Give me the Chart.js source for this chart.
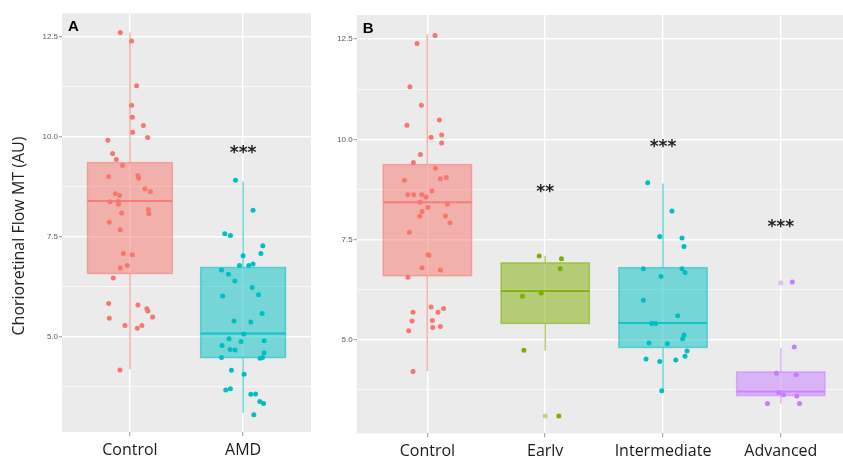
<!DOCTYPE html>
<html><head><meta charset="utf-8">
<script src="https://cdn.jsdelivr.net/npm/chart.js@4"></script>
<style>
html,body{margin:0;padding:0;background:#fff;overflow:hidden;width:843px;height:456px;}
#wrap{position:relative;width:843px;height:456px;overflow:hidden;}
canvas{position:absolute;top:0;}
#cA{left:0;}
#cB{left:330px;}
</style></head>
<body><div id="wrap"><canvas id="cA" width="330" height="490"></canvas><canvas id="cB" width="530" height="490"></canvas></div>
<script>
// ---------- shared axis data ----------
const yTickValues = [3.75, 5, 6.25, 7.5, 8.75, 10, 11.25, 12.5];
const yMajorTicks = [5, 7.5, 10, 12.5];
const yTitle = 'Chorioretinal Flow MT (AU)';

// ---------- Panel A ----------
const catsA = ['Control', 'AMD'];
const coloursA = ['#F8766D', '#00BFC4'];
const aControlY = [12.60,12.39,11.27,10.78,10.48,10.28,10.11,9.98,9.91,9.58,9.43,9.28,9.00,9.02,8.96,8.70,8.63,8.57,8.53,8.37,8.38,8.31,8.09,8.18,8.07,7.86,7.67,7.08,7.05,6.78,6.72,6.47,5.83,5.79,5.70,5.64,5.49,5.46,5.28,5.28,5.21,4.17];
const aControlJitter = [-0.085,0.015,0.059,0.015,0.021,0.119,0.024,0.157,-0.195,-0.153,-0.120,-0.065,-0.188,0.071,0.077,0.133,0.181,-0.129,-0.091,-0.177,-0.103,-0.100,-0.073,0.163,0.168,-0.182,-0.085,-0.058,0.021,-0.023,-0.085,-0.147,-0.188,0.071,0.150,0.159,0.201,-0.182,-0.044,0.106,0.065,-0.088];
const aAmdY = [8.91,8.16,7.57,7.53,7.27,7.08,7.02,6.78,6.78,6.82,6.67,6.56,6.39,6.23,6.05,6.02,5.58,5.39,5.37,5.07,4.95,4.88,4.90,4.78,4.68,4.67,4.60,4.48,4.46,4.48,4.16,4.06,3.67,3.70,3.56,3.57,3.38,3.33,3.05];
const aAmdJitter = [-0.067,0.088,-0.162,-0.112,0.174,0.157,0.000,-0.032,0.050,0.088,-0.191,-0.129,-0.073,0.080,0.136,-0.180,0.168,-0.080,0.068,0.006,-0.124,-0.018,0.186,-0.186,-0.115,-0.071,0.186,-0.191,0.150,0.172,-0.103,0.009,-0.153,-0.112,0.068,0.110,0.148,0.181,0.095];
const aWhiskerLo = [4.19, 3.10];
const aQ1 = [6.58, 4.48];
const aMedian = [8.39, 5.08];
const aQ3 = [9.35, 6.73];
const aWhiskerHi = [12.60, 8.88];
const aOutliers = [[], []];
const aSigLabel = ['', '***'];
const aSigY = [null, 9.64];

// ---------- Panel B ----------
const catsB = ['Control', 'Early', 'Intermediate', 'Advanced'];
const coloursB = ['#F8766D', '#7CAE00', '#00BFC4', '#C77CFF'];
const bControlY = [12.59,12.39,11.31,10.85,10.48,10.35,10.11,10.05,9.91,9.62,9.42,9.28,8.98,9.02,9.05,8.71,8.62,8.62,8.62,8.56,8.43,8.38,8.20,8.30,8.08,8.09,7.92,7.68,7.12,7.11,6.80,6.74,6.56,5.82,5.78,5.69,5.69,5.47,5.48,5.23,5.31,5.33,4.21];
const bControlJitter = [0.065,-0.088,-0.148,-0.051,0.102,-0.173,0.121,0.031,0.121,-0.059,-0.119,0.068,-0.195,0.110,0.161,0.039,-0.167,-0.116,-0.048,-0.012,-0.063,0.170,-0.046,0.003,-0.065,0.153,0.192,-0.153,0.005,0.014,-0.046,0.110,-0.165,0.031,0.138,-0.122,0.090,-0.131,0.042,-0.159,0.045,0.110,-0.122];
const bEarlyY = [7.09,7.02,6.77,6.09,6.17,4.74,3.10];
const bEarlyJitter = [-0.051,0.138,0.127,-0.193,-0.034,-0.181,0.116];
const bInterY = [8.92,8.21,7.58,7.54,7.33,6.77,6.77,6.68,6.58,5.99,5.60,5.41,5.41,5.12,5.03,4.92,4.90,4.72,4.59,4.52,4.46,4.50,3.73];
const bInterJitter = [-0.130,0.076,-0.028,0.161,0.178,-0.167,0.161,0.187,-0.017,-0.167,0.125,-0.096,-0.062,0.178,0.167,-0.119,0.037,0.204,0.187,-0.144,-0.028,0.108,-0.011];
const bAdvY = [6.44,4.82,4.17,4.13,3.69,3.63,3.60,3.41,3.41];
const bAdvJitter = [0.097,0.114,-0.037,0.131,-0.017,0.023,0.136,-0.113,0.159];
const bWhiskerLo = [4.22, 4.73, 3.73, 3.41];
const bQ1 = [6.60, 5.41, 4.81, 3.61];
const bMedian = [8.43, 6.22, 5.42, 3.71];
const bQ3 = [9.37, 6.92, 6.80, 4.20];
const bWhiskerHi = [12.62, 7.10, 8.90, 4.80];
const bOutliers = [[], [3.10], [], [6.42]];
const bSigLabel = ['', '**', '***', '***'];
const bSigY = [null, 8.74, 9.87, 7.86];

// ---------- helpers ----------
function rgba(hex, a) {
  const n = parseInt(hex.slice(1), 16);
  return 'rgba(' + ((n >> 16) & 255) + ',' + ((n >> 8) & 255) + ',' + (n & 255) + ',' + a + ')';
}

function makePanel(canvasId, p) {
  const datasets = [];
  p.cats.forEach((c, i) => {
    if (p.outliers[i].length) {
      datasets.push({
        label: c + ' outliers',
        data: p.outliers[i].map(v => ({x: i + 1, y: v})),
        backgroundColor: rgba(p.colours[i], 0.45),
        pointRadius: 2.5, pointHoverRadius: 2.5, borderWidth: 0
      });
    }
  });
  p.cats.forEach((c, i) => {
    datasets.push({
      label: c,
      data: p.points[i].map((v, k) => ({x: i + 1 + p.jitters[i][k], y: v})),
      backgroundColor: p.colours[i],
      pointRadius: 2.5, pointHoverRadius: 2.5, borderWidth: 0
    });
  });

  const plugin = {
    id: 'panelDecor',
    beforeDraw(chart) {
      const {ctx, chartArea: a} = chart;
      ctx.save();
      ctx.fillStyle = '#EBEBEB';
      ctx.fillRect(a.left, a.top, a.width, a.height);
      ctx.restore();
    },
    beforeDatasetsDraw(chart) {
      const {ctx, scales: {x, y}} = chart;
      ctx.save();
      p.cats.forEach((c, i) => {
        const col = p.colours[i];
        const cx = x.getPixelForValue(i + 1);
        const x0 = x.getPixelForValue(i + 1 - 0.375);
        const x1 = x.getPixelForValue(i + 1 + 0.375);
        const yq1 = y.getPixelForValue(p.q1[i]);
        const yq3 = y.getPixelForValue(p.q3[i]);
        const ymed = y.getPixelForValue(p.med[i]);
        const ylo = y.getPixelForValue(p.wLo[i]);
        const yhi = y.getPixelForValue(p.wHi[i]);
        // whiskers
        ctx.strokeStyle = rgba(col, 0.55);
        ctx.lineWidth = 1.6;
        ctx.beginPath();
        ctx.moveTo(cx, yq3); ctx.lineTo(cx, yhi);
        ctx.moveTo(cx, yq1); ctx.lineTo(cx, ylo);
        ctx.stroke();
        // box
        ctx.fillStyle = rgba(col, 0.5);
        ctx.fillRect(x0, yq3, x1 - x0, yq1 - yq3);
        ctx.strokeStyle = rgba(col, 0.55);
        ctx.lineWidth = 1.4;
        ctx.strokeRect(x0, yq3, x1 - x0, yq1 - yq3);
        // median
        ctx.strokeStyle = rgba(col, 0.85);
        ctx.lineWidth = 2;
        ctx.beginPath();
        ctx.moveTo(x0, ymed); ctx.lineTo(x1, ymed);
        ctx.stroke();
      });
      ctx.restore();
    },
    afterDatasetsDraw(chart) {
      const {ctx, chartArea: a, scales: {x, y}} = chart;
      ctx.save();
      // significance stars
      ctx.fillStyle = '#222';
      ctx.font = 'bold 17px "DejaVu Sans"';
      ctx.textAlign = 'center';
      ctx.textBaseline = 'alphabetic';
      p.cats.forEach((c, i) => {
        if (!p.sigLabel[i]) return;
        ctx.fillText(p.sigLabel[i], x.getPixelForValue(i + 1), y.getPixelForValue(p.sigY[i]) + 7);
      });
      // panel letter
      ctx.fillStyle = '#000';
      ctx.font = 'bold 15px "Liberation Sans"';
      ctx.textAlign = 'left';
      ctx.fillText(p.letter, a.left + 6, a.top + 18);
      // y axis title
      if (p.yTitle) {
        ctx.translate(19, 236);
        ctx.rotate(-Math.PI / 2);
        ctx.font = '16px "Open Sans"';
        ctx.fillStyle = '#222';
        ctx.textAlign = 'center';
        ctx.textBaseline = 'middle';
        ctx.fillText(p.yTitle, 0, 0);
      }
      ctx.restore();
    }
  };

  const n = p.cats.length;
  new Chart(document.getElementById(canvasId), {
    type: 'scatter',
    data: {datasets},
    options: {
      responsive: false,
      animation: false,
      devicePixelRatio: 1,
      layout: {padding: {top: p.padTop, right: p.padRight, left: 0, bottom: 0}},
      plugins: {legend: {display: false}, tooltip: {enabled: false}},
      events: [],
      scales: {
        x: {
          type: 'linear', min: 0.4, max: n + 0.6,
          afterBuildTicks: s => { s.ticks = p.cats.map((c, i) => ({value: i + 1})); },
          afterFit: s => { s.height = p.xAxisHeight; },
          ticks: {
            autoSkip: false, maxRotation: 0, padding: p.xLabelPad,
            color: '#1a1a1a',
            font: {family: 'Open Sans', size: 16},
            callback: v => p.cats[Math.round(v) - 1]
          },
          grid: {color: '#FFFFFF', lineWidth: 1.4, tickLength: 4, tickColor: '#9a9a9a', tickWidth: 1},
          border: {display: false}
        },
        y: {
          type: 'linear', min: p.yMin, max: p.yMax,
          afterBuildTicks: s => { s.ticks = yTickValues.map(v => ({value: v})); },
          afterFit: s => { s.width = p.yAxisWidth; },
          ticks: {
            autoSkip: false, padding: 1,
            color: '#5a5a5a',
            font: {family: 'Liberation Sans', size: 8},
            callback: v => yMajorTicks.includes(v) ? v.toFixed(1) : ''
          },
          grid: {
            color: '#FFFFFF',
            lineWidth: c => (c.tick && yMajorTicks.includes(c.tick.value)) ? 1.4 : 0.7,
            tickLength: 3,
            tickColor: c => (c.tick && yMajorTicks.includes(c.tick.value)) ? '#9a9a9a' : 'rgba(0,0,0,0)',
            tickWidth: 1
          },
          border: {display: false}
        }
      }
    },
    plugins: [plugin]
  });
}

makePanel('cA', {
  cats: catsA, colours: coloursA,
  points: [aControlY, aAmdY], jitters: [aControlJitter, aAmdJitter], outliers: aOutliers,
  wLo: aWhiskerLo, q1: aQ1, med: aMedian, q3: aQ3, wHi: aWhiskerHi,
  sigLabel: aSigLabel, sigY: aSigY, letter: 'A', yTitle: yTitle,
  yMin: 2.62, yMax: 13.08, yAxisWidth: 62, xAxisHeight: 58, padTop: 13.3, padRight: 19, xLabelPad: 5
});
makePanel('cB', {
  cats: catsB, colours: coloursB,
  points: [bControlY, bEarlyY, bInterY, bAdvY], jitters: [bControlJitter, bEarlyJitter, bInterJitter, bAdvJitter], outliers: bOutliers,
  wLo: bWhiskerLo, q1: bQ1, med: bMedian, q3: bQ3, wHi: bWhiskerHi,
  sigLabel: bSigLabel, sigY: bSigY, letter: 'B', yTitle: null,
  yMin: 2.67, yMax: 13.10, yAxisWidth: 26.7, xAxisHeight: 56.7, padTop: 15, padRight: 8.5, xLabelPad: 5
});
</script>
</body></html>
